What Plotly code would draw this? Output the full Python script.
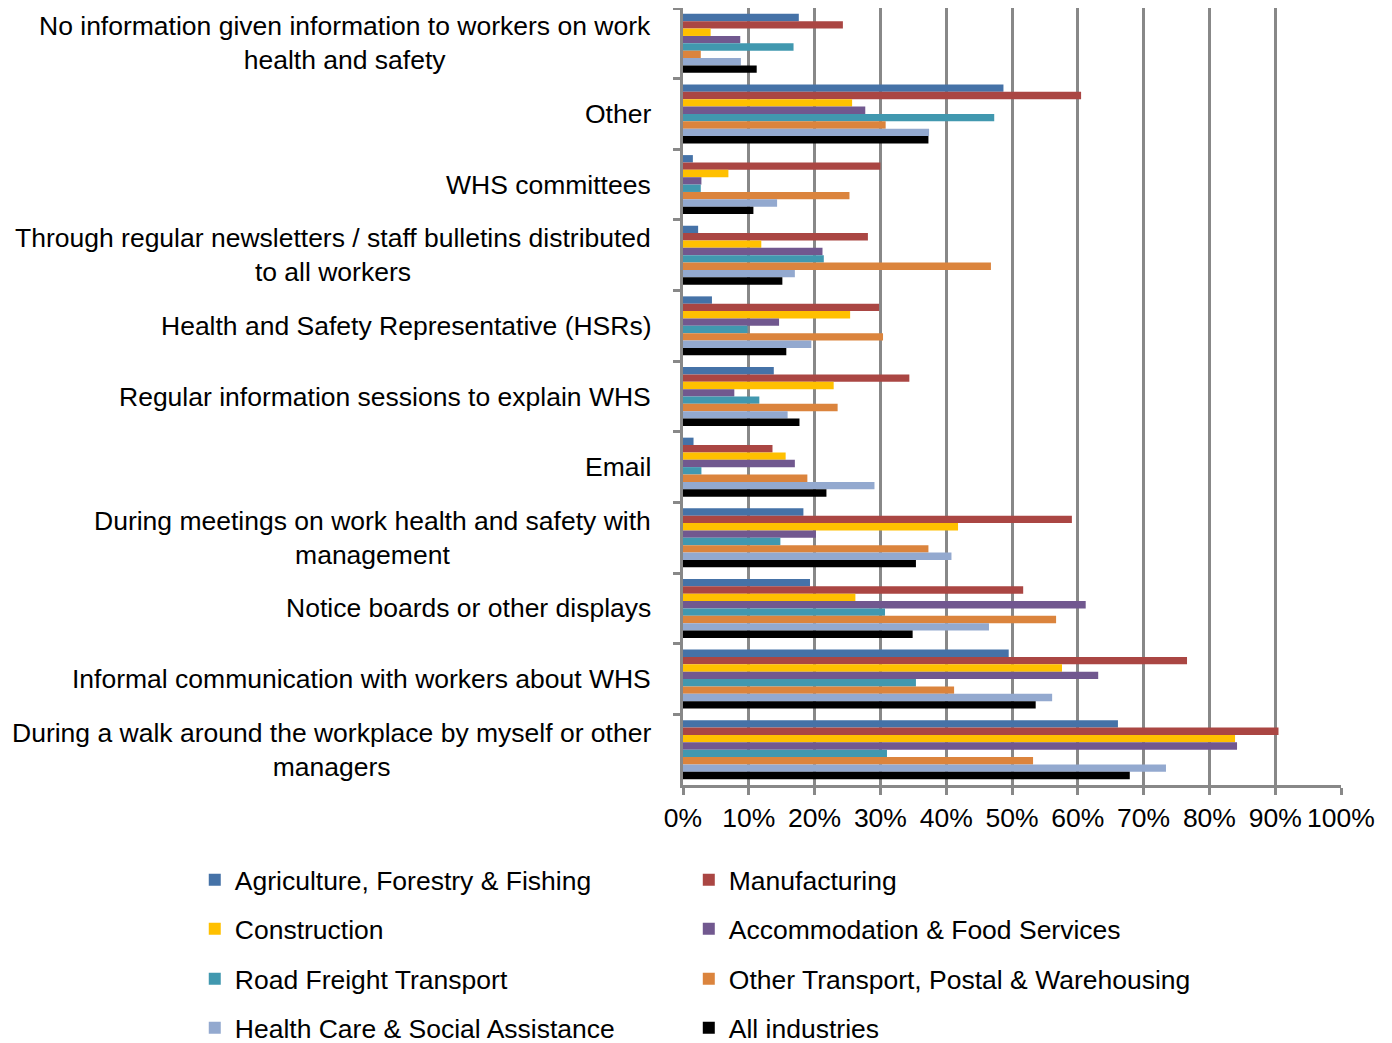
import plotly.graph_objects as go

categories = [
    "No information given information to workers on work<br>health and safety",
    "Other",
    "WHS committees",
    "Through regular newsletters / staff bulletins distributed<br>to all workers",
    "Health and Safety Representative (HSRs)",
    "Regular information sessions to explain WHS",
    "Email",
    "During meetings on work health and safety with<br>management",
    "Notice boards or other displays",
    "Informal communication with workers about WHS",
    "During a walk around the workplace by myself or other<br>managers",
]

agriculture = [17.6, 48.7, 1.5, 2.3, 4.4, 13.8, 1.6, 18.3, 19.3, 49.5, 66.1]
manufacturing = [24.3, 60.5, 30.0, 28.1, 29.8, 34.4, 13.6, 59.1, 51.7, 76.6, 90.5]
construction = [4.2, 25.7, 6.9, 11.9, 25.4, 22.9, 15.6, 41.8, 26.2, 57.6, 83.9]
accommodation = [8.7, 27.7, 2.8, 21.2, 14.6, 7.8, 17.0, 20.2, 61.2, 63.1, 84.2]
road_freight = [16.8, 47.3, 2.7, 21.4, 9.8, 11.6, 2.8, 14.8, 30.7, 35.4, 31.0]
other_transport = [2.7, 30.8, 25.3, 46.8, 30.4, 23.5, 18.9, 37.3, 56.7, 41.2, 53.2]
health_care = [8.8, 37.4, 14.3, 17.0, 19.5, 15.9, 29.1, 40.8, 46.5, 56.1, 73.4]
all_industries = [11.2, 37.3, 10.7, 15.1, 15.7, 17.7, 21.8, 35.4, 34.9, 53.6, 67.9]

series_names = [
    "Agriculture, Forestry & Fishing",
    "Manufacturing",
    "Construction",
    "Accommodation & Food Services",
    "Road Freight Transport",
    "Other Transport, Postal & Warehousing",
    "Health Care & Social Assistance",
    "All industries",
]
series_values = [agriculture, manufacturing, construction, accommodation,
                 road_freight, other_transport, health_care, all_industries]
colors = ["#4572A7", "#AA4643", "#FFC000", "#71588F",
          "#4198AF", "#DB843D", "#93A9CF", "#000000"]

x_ticks = [0, 10, 20, 30, 40, 50, 60, 70, 80, 90, 100]
x_tick_labels = ["0%", "10%", "20%", "30%", "40%", "50%",
                 "60%", "70%", "80%", "90%", "100%"]

FONT = "Liberation Sans, Arial, sans-serif"
GRID = "#888888"
FS = 26.5

fig = go.Figure()
legend_ids = ["legend" if i == 0 else "legend%d" % (i + 1) for i in range(len(series_names))]
for name, vals, col, lg in zip(series_names, series_values, colors, legend_ids):
    fig.add_trace(go.Bar(
        y=categories, x=vals, name=name, orientation="h",
        marker=dict(color=col, line=dict(width=0)),
        legend=lg, showlegend=True, hoverinfo="x+name",
    ))

for cat in categories:
    fig.add_annotation(
        x=0, xref="paper", y=cat, yref="y", text=cat, showarrow=False,
        xanchor="right", yanchor="middle", align="center", xshift=-30,
        font=dict(family=FONT, size=FS, color="black"),
    )

legend_common = dict(
    orientation="h", xanchor="left", yanchor="middle",
    font=dict(family=FONT, size=FS, color="black"),
    bgcolor="rgba(0,0,0,0)", borderwidth=0, itemclick=False,
)
row_y = [-0.1223, -0.1853, -0.2497, -0.3127]
col_x = [-0.742, 0.0088]

legend_layout = {}
for i, lg in enumerate(legend_ids):
    legend_layout[lg] = dict(**legend_common, x=col_x[i % 2], y=row_y[i // 2])

fig.update_layout(
    width=1384, height=1035,
    margin=dict(l=675, r=51, t=0, b=258, autoexpand=False),
    paper_bgcolor="white", plot_bgcolor="white",
    showlegend=True,
    barmode="group", bargap=0.165, bargroupgap=0,
    font=dict(family=FONT, size=FS, color="black"),
    xaxis=dict(
        range=[0, 100], tickmode="array", tickvals=x_ticks, ticktext=x_tick_labels,
        showgrid=True, gridcolor=GRID, gridwidth=2.5,
        showline=True, linecolor=GRID, linewidth=2.5, mirror=True,
        ticks="outside", ticklen=7, tickwidth=2.5, tickcolor=GRID,
        zeroline=False, tickfont=dict(family=FONT, size=FS, color="black"),
    ),
    yaxis=dict(
        type="category", categoryorder="array", categoryarray=categories,
        autorange="reversed", showticklabels=False,
        showline=True, linecolor=GRID, linewidth=2.5,
        ticks="outside", ticklen=7, tickwidth=2.5, tickcolor=GRID,
        tickson="boundaries", showgrid=False, zeroline=False,
    ),
    **legend_layout,
)

fig.write_html("out.html")
